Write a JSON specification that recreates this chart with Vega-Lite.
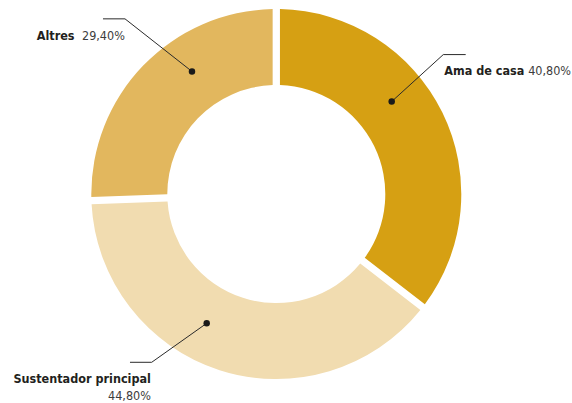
{
  "$schema": "https://vega.github.io/schema/vega-lite/v6.json",
  "width": 572,
  "height": 403,
  "autosize": {"type": "fit", "contains": "padding"},
  "padding": 0,
  "background": "white",
  "config": {"view": {"stroke": null}},
  "datasets": {
    "slices": [
      {"label": "Ama de casa", "value": 40.8, "ord": 1},
      {"label": "Sustentador principal", "value": 44.8, "ord": 2},
      {"label": "Altres", "value": 29.4, "ord": 3}
    ],
    "leaders": [
      {"label": "Altres", "seq": 0, "u": -0.4557, "v": 0.6676},
      {"label": "Altres", "seq": 1, "u": -0.8178, "v": 0.9541},
      {"label": "Altres", "seq": 2, "u": -0.9368, "v": 0.9541},
      {"label": "Ama de casa", "seq": 0, "u": 0.6238, "v": 0.5038},
      {"label": "Ama de casa", "seq": 1, "u": 0.9027, "v": 0.7595},
      {"label": "Ama de casa", "seq": 2, "u": 1.0238, "v": 0.7595},
      {"label": "Sustentador principal", "seq": 0, "u": -0.3762, "v": -0.7038},
      {"label": "Sustentador principal", "seq": 1, "u": -0.6735, "v": -0.9162},
      {"label": "Sustentador principal", "seq": 2, "u": -0.7908, "v": -0.9162}
    ],
    "labels": [
      {"label": "Altres", "pct": "29,40%", "side": "left", "nu": -1.2951, "nv": 0.8405, "pside": "left", "pu": -1.0503, "pv": 0.8405},
      {"label": "Ama de casa", "pct": "40,80%", "side": "left", "nu": 0.9081, "nv": 0.6486, "pside": "right", "pu": 1.593, "pv": 0.6486},
      {"label": "Sustentador principal", "pct": "44,80%", "side": "right", "nu": -0.6778, "nv": -1.0297, "pside": "right", "pu": -0.6778, "pv": -1.1243}
    ]
  },
  "layer": [
    {
      "data": {"name": "slices"},
      "mark": {"type": "arc", "outerRadius": 185, "innerRadius": 109, "padAngle": 0.034},
      "encoding": {
        "theta": {"field": "value", "type": "quantitative", "stack": true},
        "order": {"field": "ord", "type": "quantitative"},
        "color": {
          "field": "label", "type": "nominal", "legend": null,
          "scale": {"domain": ["Ama de casa", "Sustentador principal", "Altres"], "range": ["#D6A013", "#F1DCB0", "#E2B75E"]}
        },
        "x": {"datum": 0, "type": "quantitative", "axis": null, "scale": {"domain": [-1.4935, 1.5984], "nice": false, "zero": false}},
        "y": {"datum": 0, "type": "quantitative", "axis": null, "scale": {"domain": [-1.1216, 1.0568], "nice": false, "zero": false}}
      }
    },
    {
      "data": {"name": "leaders"},
      "mark": {"type": "line", "color": "#2a2a2a", "strokeWidth": 1},
      "encoding": {
        "x": {"field": "u", "type": "quantitative"},
        "y": {"field": "v", "type": "quantitative"},
        "detail": {"field": "label"},
        "order": {"field": "seq", "type": "quantitative"}
      }
    },
    {
      "data": {"name": "leaders"},
      "transform": [{"filter": "datum.seq == 0"}],
      "mark": {"type": "circle", "color": "#1a1a1a", "size": 42, "opacity": 1},
      "encoding": {
        "x": {"field": "u", "type": "quantitative"},
        "y": {"field": "v", "type": "quantitative"}
      }
    },
    {
      "data": {"name": "labels"},
      "transform": [{"filter": "datum.side == 'left'"}],
      "mark": {"type": "text", "align": "left", "baseline": "alphabetic", "font": "DejaVu Sans Condensed", "fontSize": 12.5, "fontWeight": "bold", "color": "#231f20"},
      "encoding": {
        "x": {"field": "nu", "type": "quantitative"},
        "y": {"field": "nv", "type": "quantitative"},
        "text": {"field": "label"}
      }
    },
    {
      "data": {"name": "labels"},
      "transform": [{"filter": "datum.side == 'right'"}],
      "mark": {"type": "text", "align": "right", "baseline": "alphabetic", "font": "DejaVu Sans Condensed", "fontSize": 12.5, "fontWeight": "bold", "color": "#231f20"},
      "encoding": {
        "x": {"field": "nu", "type": "quantitative"},
        "y": {"field": "nv", "type": "quantitative"},
        "text": {"field": "label"}
      }
    },
    {
      "data": {"name": "labels"},
      "transform": [{"filter": "datum.pside == 'left'"}],
      "mark": {"type": "text", "align": "left", "baseline": "alphabetic", "font": "DejaVu Sans Condensed", "fontSize": 12.5, "fontWeight": "normal", "color": "#3d3d3d"},
      "encoding": {
        "x": {"field": "pu", "type": "quantitative"},
        "y": {"field": "pv", "type": "quantitative"},
        "text": {"field": "pct"}
      }
    },
    {
      "data": {"name": "labels"},
      "transform": [{"filter": "datum.pside == 'right'"}],
      "mark": {"type": "text", "align": "right", "baseline": "alphabetic", "font": "DejaVu Sans Condensed", "fontSize": 12.5, "fontWeight": "normal", "color": "#3d3d3d"},
      "encoding": {
        "x": {"field": "pu", "type": "quantitative"},
        "y": {"field": "pv", "type": "quantitative"},
        "text": {"field": "pct"}
      }
    }
  ]
}
